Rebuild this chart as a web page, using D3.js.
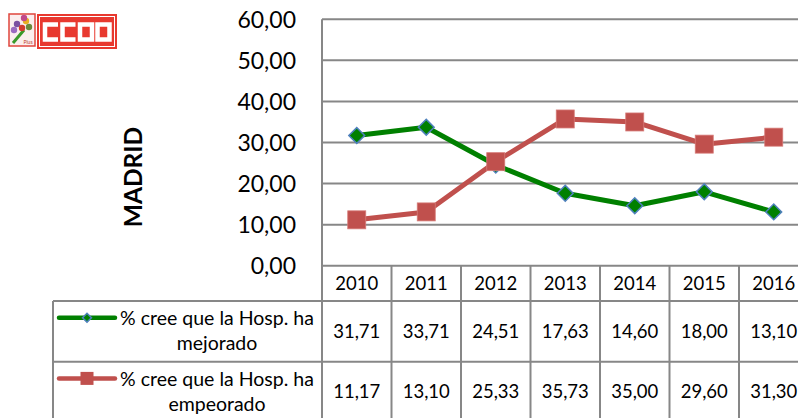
<!DOCTYPE html>
<html>
<head>
<meta charset="utf-8">
<script src="https://cdn.jsdelivr.net/npm/d3@7"></script>
<style>
  html, body { margin: 0; padding: 0; background: #fff; }
  svg { display: block; }
  text { font-family: Lato, "Open Sans", sans-serif; fill: #000; }
</style>
</head>
<body>
<svg id="chart" width="798" height="418"></svg>
<script>
// Survey series: share of respondents by year
const years = ["2010", "2011", "2012", "2013", "2014", "2015", "2016"];
const mejorado = [31.71, 33.71, 24.51, 17.63, 14.60, 18.00, 13.10];
const empeorado = [11.17, 13.10, 25.33, 35.73, 35.00, 29.60, 31.30];
const seriesNames = ["% cree que la Hosp. ha|mejorado", "% cree que la Hosp. ha|empeorado"];
const yTicks = [0, 10, 20, 30, 40, 50, 60];
const regionLabel = "MADRID";

const svg = d3.select("#chart");

const plotLeft = 322, colW = 69.5;
const plotTop = 19.3, plotBottom = 265.7;
const headerBottom = 301, row1Bottom = 361.7, row2Bottom = 422;
const legendLeft = 53;

const es = d3.formatLocale({ decimal: ",", thousands: ".", grouping: [3], currency: ["", " €"] });
const fmt = es.format(".2f");

const x = d3.scaleBand().domain(years).range([plotLeft, plotLeft + colW * years.length]).paddingInner(0).paddingOuter(0);
const y = d3.scaleLinear().domain([0, 60]).range([plotBottom, plotTop]);
const cx = d => x(d) + x.bandwidth() / 2;

const gridColor = "#878787";
const green = "#008000", blue = "#4f81bd", red = "#c0504d";

// Horizontal gridlines
svg.append("g").selectAll("line").data(yTicks).join("line")
  .attr("x1", plotLeft).attr("x2", x.range()[1])
  .attr("y1", d => y(d)).attr("y2", d => y(d))
  .attr("stroke", gridColor).attr("stroke-width", 2);

// Value axis labels
const yAxis = svg.append("g")
  .attr("transform", `translate(${plotLeft},0)`)
  .call(d3.axisLeft(y).tickValues(yTicks).tickFormat(fmt).tickSize(0).tickPadding(26));
yAxis.select(".domain").remove();
yAxis.selectAll("text").style("font-family", "Lato, 'Open Sans', sans-serif").style("font-size", "23px").attr("fill", "#000").attr("dy", "0.36em");

// Data table grid
const tbl = svg.append("g").attr("stroke", gridColor).attr("stroke-width", 2);
tbl.append("line").attr("x1", plotLeft).attr("x2", plotLeft).attr("y1", plotTop).attr("y2", row2Bottom);
tbl.selectAll("line.col").data(years).join("line").attr("class", "col")
  .attr("x1", d => x(d) + colW).attr("x2", d => x(d) + colW)
  .attr("y1", plotBottom).attr("y2", row2Bottom);
tbl.append("line").attr("x1", plotLeft).attr("x2", x.range()[1]).attr("y1", headerBottom).attr("y2", headerBottom);
tbl.append("line").attr("x1", legendLeft).attr("x2", plotLeft).attr("y1", headerBottom).attr("y2", headerBottom);
tbl.append("line").attr("x1", legendLeft).attr("x2", x.range()[1]).attr("y1", row1Bottom).attr("y2", row1Bottom);
tbl.append("line").attr("x1", legendLeft).attr("x2", legendLeft).attr("y1", headerBottom).attr("y2", row2Bottom);

// Year headers
svg.append("g").selectAll("text").data(years).join("text")
  .attr("x", d => cx(d)).attr("y", (plotBottom + headerBottom) / 2).attr("dy", "0.36em")
  .attr("text-anchor", "middle").style("font-size", "18.5px").text(d => d);

// Table values
const rows = [
  { vals: mejorado, top: headerBottom, bottom: row1Bottom },
  { vals: empeorado, top: row1Bottom, bottom: row2Bottom - 1 }
];
rows.forEach(r => {
  svg.append("g").selectAll("text").data(years).join("text")
    .attr("x", d => cx(d)).attr("y", (r.top + r.bottom) / 2).attr("dy", "0.36em")
    .attr("text-anchor", "middle").style("font-size", "18.5px")
    .text((d, i) => fmt(r.vals[i]));
});

// Series lines and markers
const line = d3.line().x((d, i) => cx(years[i])).y(d => y(d));

svg.append("path").datum(mejorado).attr("d", line)
  .attr("fill", "none").attr("stroke", green).attr("stroke-width", 5).attr("stroke-linejoin", "round");
svg.append("path").datum(empeorado).attr("d", line)
  .attr("fill", "none").attr("stroke", red).attr("stroke-width", 5).attr("stroke-linejoin", "round");

const diamond = d3.symbol().type(d3.symbolSquare).size(125);
svg.append("g").selectAll("path").data(mejorado).join("path")
  .attr("d", diamond)
  .attr("transform", (d, i) => `translate(${cx(years[i])},${y(d)}) rotate(45)`)
  .attr("fill", green).attr("stroke", blue).attr("stroke-width", 1.5);

const sq = 18;
svg.append("g").selectAll("rect").data(empeorado).join("rect")
  .attr("x", (d, i) => cx(years[i]) - sq / 2).attr("y", d => y(d) - sq / 2)
  .attr("width", sq).attr("height", sq)
  .attr("fill", red).attr("stroke", "#d67a77").attr("stroke-width", 0.8);

// Legend keys inside the table
const keyX1 = 59, keyX2 = 115, keyMid = 87;
const legendRows = [
  { name: seriesNames[0], top: headerBottom, color: green, mark: "diamond" },
  { name: seriesNames[1], top: row1Bottom, color: red, mark: "square" }
];
legendRows.forEach(r => {
  const ky = r.top + 16.7;
  svg.append("line").attr("x1", keyX1).attr("x2", keyX2).attr("y1", ky).attr("y2", ky)
    .attr("stroke", r.color).attr("stroke-width", 4.5).attr("stroke-linecap", "round");
  if (r.mark === "diamond") {
    svg.append("path").attr("d", d3.symbol().type(d3.symbolSquare).size(40)())
      .attr("transform", `translate(${keyMid},${ky}) rotate(45)`)
      .attr("fill", green).attr("stroke", blue).attr("stroke-width", 1.5);
  } else {
    svg.append("rect").attr("x", keyMid - 6.5).attr("y", ky - 6.5).attr("width", 13).attr("height", 13)
      .attr("fill", red);
  }
  const [l1, l2] = r.name.split("|");
  const t = svg.append("text").attr("text-anchor", "middle").style("font-size", "19.5px");
  t.append("tspan").attr("x", 217).attr("y", r.top + 17).attr("dy", "0.36em").text(l1);
  t.append("tspan").attr("x", 217).attr("y", r.top + 42).attr("dy", "0.36em").text(l2);
});

// Rotated region title
svg.append("text")
  .attr("transform", `translate(133,177) rotate(-90)`)
  .attr("text-anchor", "middle").attr("dy", "0.36em")
  .style("font-size", "24.5px").style("font-weight", "bold")
  .text(regionLabel);

// Union logo: flower badge plus red CCOO block
const logo = svg.append("g");
logo.append("rect").attr("x", 9).attr("y", 14).attr("width", 26).attr("height", 32)
  .attr("fill", "#fbeeee").attr("stroke", "#e0463c").attr("stroke-width", 1.5);
logo.append("line").attr("x1", 13).attr("y1", 43).attr("x2", 24).attr("y2", 30)
  .attr("stroke", "#3a9a2a").attr("stroke-width", 3);
[[17, 24, "#7b4fa0"], [26, 21, "#e8b020"], [22, 28, "#d23c2c"], [29, 27, "#6a8a3a"], [14, 30, "#9a6ac0"], [24, 18, "#c04a8a"]]
  .forEach(([px, py, c]) => logo.append("circle").attr("cx", px).attr("cy", py).attr("r", 3.2).attr("fill", c));
logo.append("text").attr("x", 28).attr("y", 44).attr("text-anchor", "middle")
  .style("font-size", "5px").style("fill", "#c0392b").text("Plus");

logo.append("rect").attr("x", 37).attr("y", 14).attr("width", 80).attr("height", 35).attr("fill", "#e8392f");
logo.append("rect").attr("x", 39.5).attr("y", 16.5).attr("width", 75).attr("height", 30)
  .attr("fill", "none").attr("stroke", "#fff").attr("stroke-width", 1);
const letters = ["C", "C", "O", "O"];
letters.forEach((L, i) => {
  const lx = 45 + i * 17.5, ly = 24.5, lw = 12, lh = 15;
  const p = L === "C"
    ? `M${lx + lw + 1},${ly} H${lx} V${ly + lh} H${lx + lw + 1}`
    : `M${lx},${ly} H${lx + lw} V${ly + lh} H${lx} Z`;
  logo.append("path").attr("d", p).attr("fill", "none").attr("stroke", "#fff").attr("stroke-width", 4.5);
});
</script>
</body>
</html>
